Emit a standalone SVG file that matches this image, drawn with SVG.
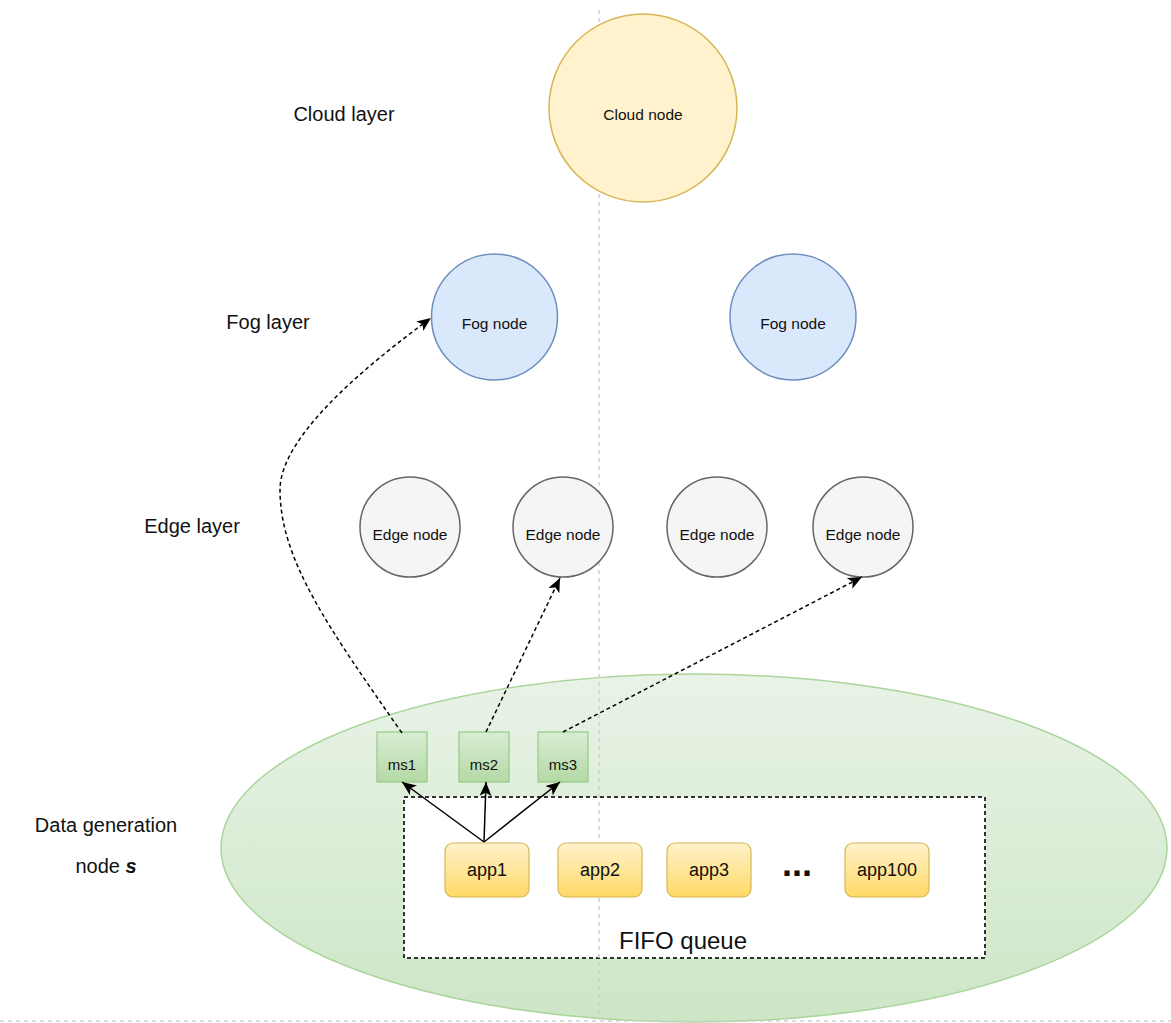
<svg xmlns="http://www.w3.org/2000/svg" width="1171" height="1023" viewBox="0 0 1171 1023">
  <style>
    text { font-family: "Liberation Sans", Arial, sans-serif; fill: #111111; text-anchor: middle; }
    .layer { font-size: 20px; }
    .nlabel { font-size: 15.5px; }
    .ms-label { font-size: 15px; }
    .app-label { font-size: 18px; }
    .guide { fill: none; stroke: #cfcfcf; stroke-width: 1.5; stroke-dasharray: 4 4; }
    .dash { fill: none; stroke: #000; stroke-width: 1.5; stroke-dasharray: 4 3; }
    .solid { fill: none; stroke: #000; stroke-width: 1.5; }
    .cloud { fill: #fff2cc; stroke: #d6b656; stroke-width: 1.5; }
    .fog { fill: #dae8fc; stroke: #6c8ebf; stroke-width: 1.5; }
    .edge { fill: #f5f5f5; stroke: #666666; stroke-width: 1.5; }
    .msbox { fill: url(#gMs); stroke: #97c986; stroke-width: 1.2; }
    .appbox { fill: url(#gApp); stroke: #d6b656; stroke-width: 1.2; }
  </style>
  <defs>
    <linearGradient id="gField" x1="0" y1="0" x2="0" y2="1">
      <stop offset="0" stop-color="#e9f3e7"/>
      <stop offset="1" stop-color="#cde6c6"/>
    </linearGradient>
    <linearGradient id="gMs" x1="0" y1="0" x2="0" y2="1">
      <stop offset="0" stop-color="#d9edd3"/>
      <stop offset="1" stop-color="#b4d9a5"/>
    </linearGradient>
    <linearGradient id="gApp" x1="0" y1="0" x2="0" y2="1">
      <stop offset="0" stop-color="#fff2cc"/>
      <stop offset="1" stop-color="#ffd966"/>
    </linearGradient>
    <marker id="arrow" markerUnits="userSpaceOnUse" markerWidth="16" markerHeight="14" refX="14" refY="6" orient="auto">
      <path d="M0,0 L14,6 L0,12 L3.5,6 Z" fill="#000"/>
    </marker>
  </defs>

  <rect width="1171" height="1023" fill="#ffffff"/>

  <!-- data generation node area -->
  <g id="data-node">
    <ellipse cx="694" cy="848" rx="473" ry="174" fill="url(#gField)" stroke="#abd59b" stroke-width="1.5"/>
    <rect id="fifo" x="404" y="797" width="581" height="161" fill="#ffffff" stroke="#333" stroke-width="2" stroke-dasharray="4 3"/>
  </g>

  <!-- layer separators -->
  <g id="guides">
    <line class="guide" x1="599" y1="10" x2="599" y2="1020"/>
    <line class="guide" x1="0" y1="1021" x2="1171" y2="1021"/>
  </g>

  <!-- layer labels -->
  <g id="labels">
    <text class="layer" x="344" y="121">Cloud layer</text>
    <text class="layer" x="268" y="329">Fog layer</text>
    <text class="layer" x="192" y="533">Edge layer</text>
    <text class="layer" x="106" y="832">Data generation</text>
    <text class="layer" x="106" y="873">node <tspan font-weight="bold" font-style="italic">s</tspan></text>
    <text x="683" y="949" font-size="24px">FIFO queue</text>
  </g>

  <g id="cloud-node">
    <circle class="cloud" cx="643" cy="108" r="94"/>
    <text class="nlabel" x="643" y="120">Cloud node</text>
  </g>

  <g id="fog-node-1">
    <circle class="fog" cx="494.5" cy="317" r="63"/>
    <text class="nlabel" x="494.5" y="329">Fog node</text>
  </g>
  <g id="fog-node-2">
    <circle class="fog" cx="793" cy="317" r="63"/>
    <text class="nlabel" x="793" y="329">Fog node</text>
  </g>

  <g id="edge-node-1">
    <circle class="edge" cx="410" cy="527" r="50"/>
    <text class="nlabel" x="410" y="540">Edge node</text>
  </g>
  <g id="edge-node-2">
    <circle class="edge" cx="563" cy="527" r="50"/>
    <text class="nlabel" x="563" y="540">Edge node</text>
  </g>
  <g id="edge-node-3">
    <circle class="edge" cx="717" cy="527" r="50"/>
    <text class="nlabel" x="717" y="540">Edge node</text>
  </g>
  <g id="edge-node-4">
    <circle class="edge" cx="863" cy="527" r="50"/>
    <text class="nlabel" x="863" y="540">Edge node</text>
  </g>

  <g id="ms1">
    <rect class="msbox" x="377" y="732" width="50" height="50"/>
    <text class="ms-label" x="402" y="770">ms1</text>
  </g>
  <g id="ms2">
    <rect class="msbox" x="459" y="732" width="50" height="50"/>
    <text class="ms-label" x="484" y="770">ms2</text>
  </g>
  <g id="ms3">
    <rect class="msbox" x="538" y="732" width="50" height="50"/>
    <text class="ms-label" x="563" y="770">ms3</text>
  </g>

  <g id="app1">
    <rect class="appbox" x="445" y="843" width="84" height="54" rx="8"/>
    <text class="app-label" x="487" y="876">app1</text>
  </g>
  <g id="app2">
    <rect class="appbox" x="558" y="843" width="84" height="54" rx="8"/>
    <text class="app-label" x="600" y="876">app2</text>
  </g>
  <g id="app3">
    <rect class="appbox" x="667" y="843" width="84" height="54" rx="8"/>
    <text class="app-label" x="709" y="876">app3</text>
  </g>
  <g id="ellipsis">
    <text x="797" y="876" font-size="36px" font-weight="bold">...</text>
  </g>
  <g id="app100">
    <rect class="appbox" x="845" y="843" width="84" height="54" rx="8"/>
    <text class="app-label" x="887" y="876">app100</text>
  </g>

  <!-- connectors -->
  <g id="connectors">
    <path class="solid" d="M484,842 L402,782" marker-end="url(#arrow)"/>
    <path class="solid" d="M484,842 L486,782" marker-end="url(#arrow)"/>
    <path class="solid" d="M484,842 L560,782" marker-end="url(#arrow)"/>
    <path class="dash" d="M402,733 C330,630 280,560 280,490 C280,449 330,392 431,318" marker-end="url(#arrow)"/>
    <path class="dash" d="M486,732 L560,578" marker-end="url(#arrow)"/>
    <path class="dash" d="M563,732 L862,577" marker-end="url(#arrow)"/>
  </g>
</svg>
